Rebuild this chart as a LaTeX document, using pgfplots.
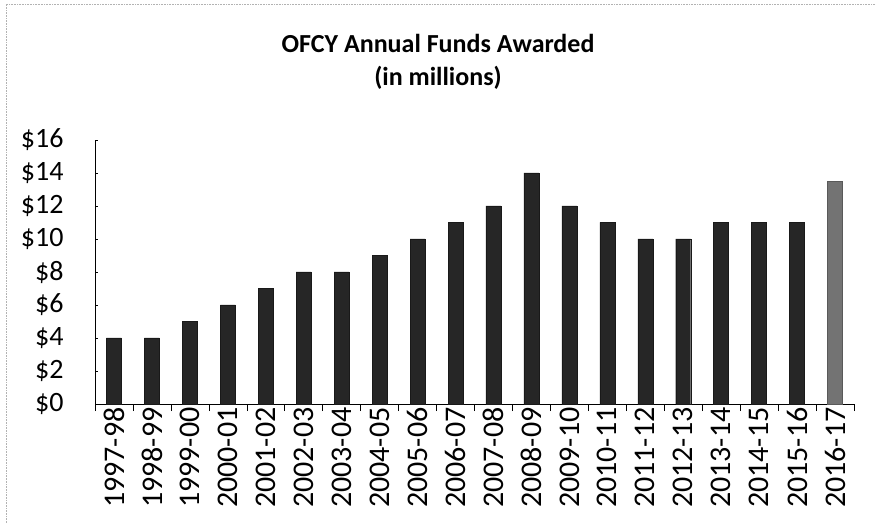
\documentclass[border=0pt]{standalone}
\usepackage{fontspec}
\setmainfont{Carlito}
\usepackage{pgfplots}
\pgfplotsset{compat=1.18}

\pgfplotstableread{
idx val
0 4
1 4
2 5
3 6
4 7
5 8
6 8
7 9
8 10
9 11
10 12
11 14
12 12
13 11
14 10
15 10
16 11
17 11
18 11
}\funds
\pgfplotstableread{
idx val
19 13.5
}\current

\begin{document}
\begin{tikzpicture}
\useasboundingbox (0,0) rectangle (876bp,523bp);
\draw[gray!60, densely dotted, line width=0.6bp] (6bp,0) -- (6bp,519bp) -- (876bp,519bp);
\node[font=\fontsize{26bp}{33bp}\selectfont\bfseries, align=center] at (438bp,461bp)
  {OFCY Annual Funds Awarded\\(in millions)};
\begin{axis}[
  at={(95bp,119bp)}, anchor=south west,
  scale only axis, width=759bp, height=264bp,
  ybar, bar width=15bp, bar shift=0pt,
  xmin=-0.5, xmax=19.5, ymin=0, ymax=16,
  axis x line=bottom, axis y line=left,
  axis line style={-, black, line width=0.8bp},
  xtick={0,...,19},
  xticklabels={1997-98,1998-99,1999-00,2000-01,2001-02,2002-03,2003-04,2004-05,2005-06,2006-07,2007-08,2008-09,2009-10,2010-11,2011-12,2012-13,2013-14,2014-15,2015-16,2016-17},
  x tick label style={rotate=90, anchor=east, font=\fontsize{30bp}{34bp}\selectfont},
  major x tick style={draw=none},
  minor xtick={-0.5,0.5,...,19.5},
  tick align=inside,
  minor tick length=7bp,
  minor x tick style={yshift=-7bp, black, line width=0.6bp},
  ytick={0,2,...,16},
  major tick length=3bp,
  major y tick style={black, line width=0.5bp},
  yticklabel={\$\pgfmathprintnumber{\tick}},
  y tick label style={font=\fontsize{28bp}{32bp}\selectfont, xshift=-28bp},
  /pgf/number format/assume math mode=true,
  clip=false,
]
\addplot[fill=black!85, draw=black!90] table[x=idx, y=val] {\funds};
\addplot[fill=black!55, draw=black!65] table[x=idx, y=val] {\current};
\end{axis}
\end{tikzpicture}
\end{document}
